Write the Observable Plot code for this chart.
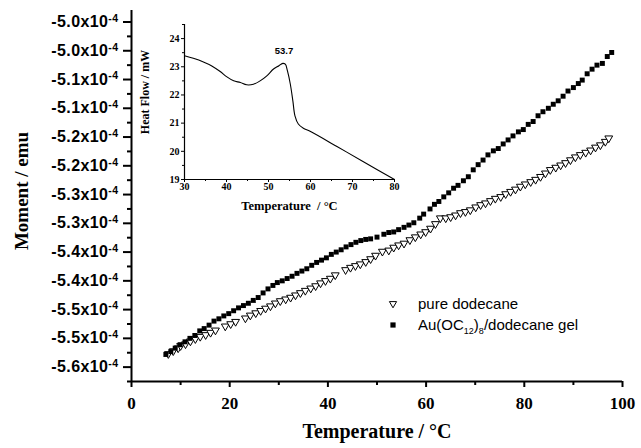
<!DOCTYPE html>
<html>
<head>
<meta charset="utf-8">
<script src="https://cdn.jsdelivr.net/npm/d3@7"></script>
<script src="https://cdn.jsdelivr.net/npm/@observablehq/plot@0.6"></script>
<style>
  html, body { margin: 0; padding: 0; background: #fff; }
  #wrap { position: relative; width: 641px; height: 448px; }
  #inset { position: absolute; left: 130px; top: 0px; }
  #legend { position: absolute; left: 386px; top: 293px; font-family: "Liberation Sans", Arial, sans-serif; font-size: 15px; color: #000; line-height: 21px; }
  #legend .row { display: flex; align-items: center; }
  #legend svg { width: 14px; height: 14px; margin-right: 18px; }
  #legend sub { font-size: 9px; vertical-align: -4px; line-height: 0; }
</style>
</head>
<body>
<div id="wrap">
  <div id="main"></div>
  <div id="inset"></div>
  <div id="legend">
    <div class="row"><svg viewBox="-7 -7 14 14"><path d="M-3.6,-2.4L3.6,-2.4L0,3.8Z" fill="#fff" stroke="#000" stroke-width="1"/></svg><span>pure dodecane</span></div>
    <div class="row"><svg viewBox="-7 -7 14 14"><rect x="-2.6" y="-2.6" width="5.2" height="5.2" fill="#000"/></svg><span>Au(OC<sub>12</sub>)<sub>8</sub>/dodecane gel</span></div>
  </div>
</div>
<script>
// ---- Main chart data (moment in units of 1e-4 emu) ----
const gelT = [7.0,8.0,8.9,9.9,10.9,11.9,12.9,13.9,14.8,15.8,16.8,17.8,18.8,19.8,20.8,21.8,22.8,23.8,24.8,25.8,26.8,27.8,28.8,29.7,30.7,31.7,32.7,33.7,34.7,35.7,36.7,37.7,38.7,39.7,40.7,41.7,42.7,43.7,44.7,45.7,46.7,47.7,48.7,50.0,51.4,52.4,53.4,54.4,55.5,56.5,57.5,58.7,59.5,60.8,61.7,62.6,63.6,64.6,65.6,66.5,67.6,68.6,69.6,70.6,71.6,72.6,73.7,74.7,75.7,76.7,77.7,78.8,79.8,80.8,81.8,82.8,83.8,84.9,85.9,86.9,87.9,88.9,90.0,91.0,91.8,92.8,93.8,94.8,95.9,96.9,97.8];
const gelM = [-5.528,-5.523,-5.517,-5.511,-5.506,-5.500,-5.495,-5.487,-5.483,-5.477,-5.470,-5.466,-5.461,-5.457,-5.452,-5.447,-5.443,-5.439,-5.434,-5.429,-5.421,-5.414,-5.408,-5.403,-5.400,-5.396,-5.392,-5.387,-5.383,-5.379,-5.373,-5.368,-5.364,-5.360,-5.354,-5.350,-5.346,-5.341,-5.337,-5.333,-5.330,-5.328,-5.327,-5.324,-5.319,-5.316,-5.315,-5.311,-5.307,-5.303,-5.299,-5.291,-5.284,-5.275,-5.267,-5.262,-5.254,-5.247,-5.239,-5.234,-5.226,-5.219,-5.207,-5.198,-5.190,-5.181,-5.174,-5.170,-5.162,-5.155,-5.148,-5.141,-5.137,-5.128,-5.123,-5.113,-5.106,-5.100,-5.093,-5.087,-5.079,-5.070,-5.064,-5.057,-5.051,-5.040,-5.032,-5.025,-5.022,-5.010,-5.003];
const pureT = [7.5,8.5,9.5,10.0,11.0,12.0,13.0,14.0,15.1,16.1,17.1,19.1,20.2,21.2,23.2,24.2,25.3,26.3,27.3,28.3,29.3,30.3,31.4,32.4,33.4,34.4,35.4,36.5,37.5,38.5,39.5,40.5,41.5,43.6,44.6,45.6,46.6,47.7,48.7,49.7,51.1,52.4,53.4,54.4,55.5,56.7,57.8,58.9,59.9,60.9,61.9,62.9,64.0,65.0,66.0,67.0,68.0,69.0,70.1,71.1,72.1,73.1,74.1,75.2,76.2,77.2,78.2,79.2,80.2,81.3,82.3,83.3,84.3,85.3,86.4,87.4,88.4,89.4,90.4,91.4,92.5,93.5,94.5,95.5,96.5,97.2];
const pureM = [-5.527,-5.522,-5.517,-5.513,-5.510,-5.505,-5.501,-5.497,-5.494,-5.490,-5.486,-5.479,-5.475,-5.471,-5.465,-5.460,-5.456,-5.452,-5.448,-5.444,-5.439,-5.435,-5.432,-5.429,-5.425,-5.421,-5.417,-5.413,-5.409,-5.404,-5.400,-5.396,-5.390,-5.381,-5.377,-5.374,-5.371,-5.367,-5.362,-5.356,-5.349,-5.347,-5.342,-5.338,-5.335,-5.329,-5.324,-5.319,-5.315,-5.309,-5.301,-5.291,-5.291,-5.289,-5.286,-5.282,-5.280,-5.277,-5.272,-5.268,-5.265,-5.261,-5.257,-5.254,-5.249,-5.245,-5.241,-5.236,-5.232,-5.228,-5.224,-5.219,-5.213,-5.207,-5.203,-5.199,-5.195,-5.190,-5.185,-5.181,-5.177,-5.173,-5.168,-5.164,-5.158,-5.152];

const xDomain = [0, 100];
const xMajor = [0, 20, 40, 60, 80, 100];
const xMinor = [10, 30, 50, 70, 90];
const yDomain = [-5.575, -4.93];
const yMajor = [-4.95, -5.00, -5.05, -5.10, -5.15, -5.20, -5.25, -5.30, -5.35, -5.40, -5.45, -5.50, -5.55];
const yLabels = ["-5.0", "-5.0", "-5.1", "-5.1", "-5.2", "-5.2", "-5.3", "-5.3", "-5.4", "-5.4", "-5.5", "-5.5", "-5.6"];
const yMinor = [-4.975, -5.025, -5.075, -5.125, -5.175, -5.225, -5.275, -5.325, -5.375, -5.425, -5.475, -5.525, -5.575];

// ---- Inset (DSC) data ----
const dscT = [30, 32.1, 34.5, 36.5, 38.5, 40.1, 41.7, 43.3, 44.8, 46.4, 48.0, 49.6, 51.2, 52.4, 53.4, 54.0, 54.5, 55.2, 55.8, 56.3, 57.1, 58.3, 59.9, 66.3, 72.6, 80];
const dscHF = [23.39, 23.30, 23.17, 23.03, 22.83, 22.64, 22.50, 22.44, 22.36, 22.38, 22.50, 22.68, 22.92, 23.03, 23.12, 23.09, 22.86, 22.38, 21.79, 21.26, 20.97, 20.82, 20.71, 20.17, 19.63, 19.0];
const peakT = 53.7, peakHF = 23.12, peakLabel = "53.7";
const insetXMajor = [30, 40, 50, 60, 70, 80];
const insetXMinor = [35, 45, 55, 65, 75];
const insetYMajor = [19, 20, 21, 22, 23, 24];
const insetYMinor = [19.5, 20.5, 21.5, 22.5, 23.5, 24.5];

const gel = gelT.map((t, i) => ({T: t, M: gelM[i]}));
const pure = pureT.map((t, i) => ({T: t, M: pureM[i]}));
const dsc = dscT.map((t, i) => ({T: t, HF: dscHF[i]}));

const main = Plot.plot({
  width: 641, height: 448,
  marginLeft: 131, marginRight: 19, marginTop: 10, marginBottom: 67,
  style: {fontFamily: "Liberation Serif", fontWeight: "bold", fontSize: "17px", color: "#000", background: "#fff"},
  x: {domain: xDomain},
  y: {domain: yDomain},
  marks: [
    Plot.axisX({ticks: xMajor, tickSize: 6, tickPadding: 9, strokeWidth: 2, label: null, tickFormat: d => String(d)}),
    Plot.axisX({ticks: xMinor, tickSize: 4, strokeWidth: 2, label: null, tickFormat: () => ""}),
    Plot.axisY({ticks: yMajor, tickSize: 8, tickPadding: 5, strokeWidth: 2, label: null,
      tickFormat: d => yLabels[yMajor.indexOf(d)] + "x10"}),
    Plot.axisY({ticks: yMinor, tickSize: 4, strokeWidth: 2, label: null, tickFormat: () => ""}),
    Plot.ruleX([xDomain[0]], {strokeWidth: 2}),
    Plot.ruleY([yDomain[0]], {strokeWidth: 2}),
    Plot.dot(pure, {x: "T", y: "M", symbol: "triangle", rotate: 180, r: 2.9, fill: "#fff", stroke: "#000", strokeWidth: 1}),
    Plot.dot(gel, {x: "T", y: "M", symbol: "square", r: 2.8, fill: "#000", stroke: "none"}),
    Plot.text(["Temperature / °C"], {frameAnchor: "bottom", dy: 56, fontSize: 20, fontWeight: "bold", fontFamily: "Liberation Serif"}),
    Plot.text(["Moment / emu"], {frameAnchor: "left", textAnchor: "middle", dx: -110, dy: -5, rotate: -90, fontSize: 19, fontWeight: "bold", fontFamily: "Liberation Serif"})
  ]
});
document.getElementById("main").appendChild(main);

// y tick labels: bold sans-serif with superscript exponent
d3.select(main).selectAll('g[aria-label="y-axis tick label"] text')
  .filter(function() { return this.textContent.length > 0; })
  .attr("font-family", "Liberation Sans")
  .attr("font-weight", "bold")
  .attr("font-size", 16)
  .attr("letter-spacing", 0.4)
  .each(function() {
    d3.select(this).append("tspan").attr("dy", "-0.5em").attr("font-size", 10.5).text("-4");
  });

const inset = Plot.plot({
  width: 280, height: 225,
  marginLeft: 54, marginRight: 16, marginTop: 24, marginBottom: 46,
  style: {fontFamily: "Liberation Serif", fontWeight: "bold", fontSize: "10px", color: "#000", background: "transparent"},
  x: {domain: [30, 80]},
  y: {domain: [19, 24.5]},
  marks: [
    Plot.axisX({ticks: insetXMajor, tickSize: 3, tickPadding: 0, label: null, tickFormat: d => String(d)}),
    Plot.axisX({ticks: insetXMinor, tickSize: 2, label: null, tickFormat: () => ""}),
    Plot.axisY({ticks: insetYMajor, tickSize: 3, tickPadding: 2, label: null, tickFormat: d => String(d)}),
    Plot.axisY({ticks: insetYMinor, tickSize: 2, label: null, tickFormat: () => ""}),
    Plot.ruleX([30], {strokeWidth: 1.2}),
    Plot.ruleY([19], {strokeWidth: 1.2}),
    Plot.line(dsc, {x: "T", y: "HF", curve: "catmull-rom", strokeWidth: 1.1, stroke: "#000"}),
    Plot.text([{T: peakT, HF: peakHF}], {x: "T", y: "HF", text: () => peakLabel, dy: -12, fontFamily: "Liberation Sans", fontWeight: "bold", fontSize: 9.5}),
    Plot.text(["Temperature  / °C"], {frameAnchor: "bottom", dy: 30, fontSize: 12.5, fontWeight: "bold", fontFamily: "Liberation Serif"}),
    Plot.text(["Heat Flow / mW"], {frameAnchor: "left", textAnchor: "middle", dx: -39, dy: -10, rotate: -90, fontSize: 12, fontWeight: "bold", fontFamily: "Liberation Serif"})
  ]
});
document.getElementById("inset").appendChild(inset);
</script>
</body>
</html>
